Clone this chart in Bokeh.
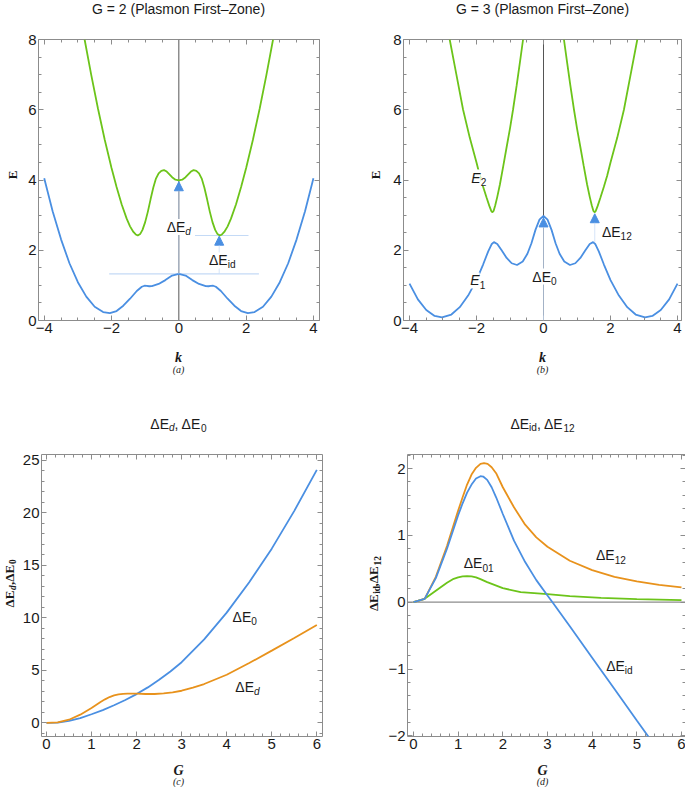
import math
from bokeh.plotting import figure
from bokeh.models import (Label, Arrow, NormalHead, Span, LinearAxis, Range1d,
                          FixedTicker, CustomJSTickFormatter)
from bokeh.layouts import column, row
from bokeh.embed import file_html
from bokeh.resources import INLINE

# ---------------- data ----------------
# (a) G = 2 : lower band E1 (blue) and upper band E2 (green)
ka_low = [-4.00, -3.75, -3.50, -3.25, -3.00, -2.75, -2.50, -2.25, -2.05, -1.85, -1.65,
          -1.45, -1.25, -1.10, -1.02, -0.95, -0.88, -0.80, -0.60, -0.40, -0.20, 0.00,
          0.20, 0.40, 0.60, 0.80, 0.88, 0.95, 1.02, 1.10, 1.25, 1.45, 1.65, 1.85, 2.05,
          2.25, 2.50, 2.75, 3.00, 3.25, 3.50, 3.75, 4.00]
Ea_low = [4.05, 3.11, 2.31, 1.63, 1.09, 0.68, 0.39, 0.24, 0.21, 0.27, 0.42,
          0.62, 0.84, 0.96, 0.99, 0.985, 0.975, 0.98, 1.04, 1.15, 1.28, 1.33,
          1.28, 1.15, 1.04, 0.98, 0.975, 0.985, 0.99, 0.96, 0.84, 0.62, 0.42, 0.27, 0.21,
          0.24, 0.39, 0.68, 1.09, 1.63, 2.31, 3.11, 4.05]
ka_up = [-2.80, -2.60, -2.40, -2.20, -2.00, -1.85, -1.70, -1.55, -1.45, -1.35, -1.28,
         -1.22, -1.15, -1.08, -1.00, -0.92, -0.84, -0.76, -0.68, -0.60, -0.52, -0.44,
         -0.36, -0.28, -0.20, -0.10, 0.00,
         0.10, 0.20, 0.28, 0.36, 0.44, 0.52, 0.60, 0.68, 0.76, 0.84, 0.92, 1.00,
         1.08, 1.15, 1.22, 1.28, 1.35, 1.45, 1.55, 1.70, 1.85, 2.00, 2.20, 2.40, 2.60, 2.80]
Ea_up = [8.00, 6.98, 6.02, 5.14, 4.34, 3.80, 3.31, 2.90, 2.68, 2.52, 2.45,
         2.42, 2.46, 2.58, 2.80, 3.10, 3.45, 3.78, 4.04, 4.19, 4.26, 4.28,
         4.24, 4.16, 4.08, 4.01, 3.99,
         4.01, 4.08, 4.16, 4.24, 4.28, 4.26, 4.19, 4.04, 3.78, 3.45, 3.10, 2.80,
         2.58, 2.46, 2.42, 2.45, 2.52, 2.68, 2.90, 3.31, 3.80, 4.34, 5.14, 6.02, 6.98, 8.00]
guide_a_E = [1.33, 2.42]
guide_a_k0 = [-2.07, 0.48]
guide_a_k1 = [2.38, 2.07]
arrow_a_k = [0.00, 1.20]
arrow_a_E0 = [1.33, 1.33]
arrow_a_E1 = [3.95, 2.40]

# (b) G = 3
kb_low = [-4.00, -3.75, -3.50, -3.25, -3.03, -2.75, -2.50, -2.25, -2.00, -1.80, -1.65,
          -1.55, -1.48, -1.38, -1.25, -1.10, -0.95, -0.79, -0.62, -0.48, -0.36, -0.24,
          -0.12, 0.00, 0.12, 0.24, 0.36, 0.48, 0.62, 0.79, 0.95, 1.10, 1.25, 1.38, 1.48,
          1.55, 1.65, 1.80, 2.00, 2.25, 2.50, 2.75, 3.03, 3.25, 3.50, 3.75, 4.00]
Eb_low = [1.05, 0.60, 0.30, 0.13, 0.09, 0.17, 0.38, 0.71, 1.15, 1.60, 1.97,
          2.17, 2.23, 2.18, 2.00, 1.78, 1.63, 1.58, 1.68, 1.90, 2.20, 2.58,
          2.87, 2.98, 2.87, 2.58, 2.20, 1.90, 1.68, 1.58, 1.63, 1.78, 2.00, 2.18, 2.23,
          2.17, 1.97, 1.60, 1.15, 0.71, 0.38, 0.17, 0.09, 0.13, 0.30, 0.60, 1.05]
kb_up_left = [-2.80, -2.60, -2.40, -2.20, -2.00, -1.90, -1.80, -1.70, -1.62, -1.56, -1.53,
              -1.49, -1.44, -1.38, -1.30, -1.20, -1.10, -1.00, -0.91, -0.80, -0.70, -0.61]
Eb_up_left = [8.00, 7.00, 6.00, 5.20, 4.50, 4.12, 3.80, 3.50, 3.27, 3.12, 3.08,
              3.12, 3.28, 3.52, 3.88, 4.40, 4.94, 5.47, 6.00, 6.70, 7.38, 8.00]
kb_up_right = [0.61, 0.70, 0.80, 0.91, 1.00, 1.10, 1.20, 1.30, 1.38, 1.44, 1.49,
               1.53, 1.56, 1.62, 1.70, 1.80, 1.90, 2.00, 2.20, 2.40, 2.60, 2.80]
Eb_up_right = [8.00, 7.38, 6.70, 6.00, 5.47, 4.94, 4.40, 3.88, 3.52, 3.28, 3.12,
               3.08, 3.12, 3.27, 3.50, 3.80, 4.12, 4.50, 5.20, 6.00, 7.00, 8.00]
arrow_b_k = [0.00, 1.53]
arrow_b_E0 = [0.00, 2.23]
arrow_b_E1 = [2.92, 3.04]

# (c) gaps versus G
Gc0 = [0.0, 0.25, 0.5, 0.75, 1.0, 1.25, 1.5, 1.75, 2.0, 2.25, 2.5, 2.75, 3.0,
       3.5, 4.0, 4.5, 5.0, 5.5, 6.0]
dE0 = [0.0, 0.03, 0.18, 0.45, 0.82, 1.22, 1.68, 2.18, 2.74, 3.38, 4.10, 4.90, 5.78,
       7.95, 10.5, 13.4, 16.6, 20.2, 24.1]
Gcd = [0.0, 0.25, 0.5, 0.75, 1.0, 1.1, 1.2, 1.3, 1.4, 1.5, 1.6, 1.7, 1.8, 1.9, 2.0,
       2.2, 2.4, 2.6, 2.8, 3.0, 3.25, 3.5, 4.0, 4.5, 5.0, 5.5, 6.0]
dEd = [0.0, 0.05, 0.30, 0.78, 1.42, 1.70, 1.98, 2.24, 2.46, 2.62, 2.72, 2.77, 2.79, 2.79, 2.78,
       2.75, 2.75, 2.80, 2.90, 3.06, 3.35, 3.70, 4.58, 5.70, 6.88, 8.08, 9.33]

# (d)
Gd12 = [0.0, 0.25, 0.5, 0.75, 1.0, 1.1, 1.2, 1.3, 1.4, 1.5, 1.58, 1.66, 1.75, 1.85, 2.0,
        2.25, 2.5, 2.75, 3.0, 3.5, 4.0, 4.5, 5.0, 5.5, 6.0]
dE12 = [0.0, 0.05, 0.38, 0.84, 1.37, 1.57, 1.76, 1.91, 2.01, 2.07, 2.08, 2.07, 2.02, 1.93, 1.72,
        1.42, 1.16, 0.97, 0.83, 0.62, 0.48, 0.38, 0.31, 0.26, 0.22]
Gdid = [0.0, 0.25, 0.5, 0.75, 1.0, 1.1, 1.2, 1.3, 1.4, 1.5, 1.56, 1.65, 1.75, 1.85, 2.0,
        2.25, 2.5, 2.75, 3.0, 3.1, 3.5, 4.0, 4.5, 5.0, 5.3]
dEid = [0.0, 0.05, 0.36, 0.80, 1.30, 1.48, 1.64, 1.76, 1.85, 1.885, 1.88, 1.83, 1.72, 1.57, 1.32,
        0.92, 0.60, 0.33, 0.10, 0.01, -0.36, -0.83, -1.30, -1.77, -2.05]
Gd01 = [0.0, 0.25, 0.5, 0.75, 0.9, 1.0, 1.1, 1.2, 1.3, 1.4, 1.5, 1.65, 2.0, 2.4, 3.0, 3.5,
        4.2, 5.0, 6.0]
dE01 = [0.0, 0.05, 0.17, 0.29, 0.35, 0.37, 0.385, 0.39, 0.385, 0.37, 0.345, 0.30, 0.21, 0.15,
        0.12, 0.09, 0.065, 0.045, 0.03]

# ---------------- styling ----------------
BLUE = "#4a8fe2"
GREEN = "#6cc41a"
ORANGE = "#e8921c"
LIGHT = "#c4daf6"
FRAME = "#8c8c8c"
TXT = "#1a1a1a"
SANS = "Liberation Sans"
SERIF = "Liberation Serif"
TICK_SIZE = "15px"

WID = {"Δ": 0.668, "E": 0.667, "d": 0.556, "i": 0.222, "0": 0.556, "1": 0.556,
       "2": 0.556, ",": 0.278, " ": 0.278}


def tw(s, size):
    return sum(WID.get(c, 0.556) for c in s) * size


def rich(p, x, y, parts, size=14, font=SANS, angle=0.0, bg=None):
    sub = size * 0.72
    widths = [tw(t, sub if s else size) for t, s, st in parts]
    off = -sum(widths) / 2
    for (t, s, st), w in zip(parts, widths):
        fs = sub if s else size
        dy = -size * 0.30 if s else 0.0
        if angle == 0:
            xo, yo = off, dy
        else:
            xo, yo = -dy, off
        p.add_layout(Label(x=x, y=y, text=t, x_offset=xo, y_offset=yo, angle=angle,
                           text_font=font, text_font_size=f"{fs:.1f}px",
                           text_font_style=st, text_color=TXT,
                           text_align="left", text_baseline="middle",
                           background_fill_color=bg))
        off += w


def plain(p, x, y, text, size=14, font=SANS, style="normal", angle=0.0):
    p.add_layout(Label(x=x, y=y, text=text, angle=angle,
                       text_font=font, text_font_size=f"{size}px", text_font_style=style,
                       text_color=TXT, text_align="center", text_baseline="middle"))


def strip(width, height):
    p = figure(width=width, height=height, x_range=Range1d(0, width),
               y_range=Range1d(0, height), output_backend="svg",
               toolbar_location=None, tools="", min_border=0,
               x_axis_location=None, y_axis_location=None)
    p.grid.visible = False
    p.outline_line_color = None
    p.background_fill_color = "white"
    p.border_fill_color = "white"
    return p


def make_fig(xr, yr, fw, fh, mbl, mbr, mbt, mbb, xt, xm, yt, ym, xo, yo):
    p = figure(frame_width=fw, frame_height=fh, x_range=Range1d(*xr), y_range=Range1d(*yr),
               output_backend="svg", toolbar_location=None, tools="",
               min_border_left=mbl, min_border_right=mbr,
               min_border_top=mbt, min_border_bottom=mbb)
    p.grid.visible = False
    p.outline_line_color = FRAME
    p.outline_line_width = 1
    p.background_fill_color = "white"
    p.border_fill_color = "white"
    bottom = p.below[0]
    left = p.left[0]
    top = LinearAxis(formatter=CustomJSTickFormatter(code="return ''"))
    right = LinearAxis(formatter=CustomJSTickFormatter(code="return ''"))
    p.add_layout(top, "above")
    p.add_layout(right, "right")
    for ax, t, m, o in ((bottom, xt, xm, xo), (left, yt, ym, yo),
                        (top, xt, xm, {}), (right, yt, ym, {})):
        ax.ticker = FixedTicker(ticks=t, minor_ticks=m)
        ax.axis_line_color = None
        ax.major_tick_line_color = FRAME
        ax.minor_tick_line_color = FRAME
        ax.major_tick_in = 5
        ax.major_tick_out = 0
        ax.minor_tick_in = 3
        ax.minor_tick_out = 0
        ax.major_label_text_font = SANS
        ax.major_label_text_color = TXT
        if o:
            ax.major_label_overrides = o
    bottom.major_label_text_font_size = TICK_SIZE
    left.major_label_text_font_size = TICK_SIZE
    bottom.major_label_standoff = 2
    left.major_label_standoff = 2
    for ax in (top, right):
        ax.major_label_text_font_size = "0px"
        ax.major_label_standoff = 0
    return p


k_ticks = [-4, -2, 0, 2, 4]
k_minor = [i * 0.5 for i in range(-9, 10)]
E_ticks = [0, 2, 4, 6, 8]
E_minor = [i * 0.5 for i in range(0, 17)]
k_over = {-4: "−4", -2: "−2"}
G_ticks = [0, 1, 2, 3, 4, 5, 6]
G_minor = [i * 0.2 for i in range(0, 31)]

# ---------------- panel (a) ----------------
pa = make_fig((-4.17, 4.18), (0, 8), 281, 281, 18, 21, 9, 21,
              k_ticks, k_minor, E_ticks, E_minor, k_over, {})
pa.add_layout(Span(location=0, dimension="height", line_color="#555555",
                   line_width=1, level="underlay"))
pa.segment(x0=guide_a_k0, y0=guide_a_E, x1=guide_a_k1, y1=guide_a_E,
           line_color=LIGHT, line_width=1.2)
pa.line(ka_low, Ea_low, line_color=BLUE, line_width=1.8)
pa.line(ka_up, Ea_up, line_color=GREEN, line_width=1.8)
for kk, e0, e1 in zip(arrow_a_k, arrow_a_E0, arrow_a_E1):
    pa.add_layout(Arrow(end=NormalHead(size=9, fill_color=BLUE, line_color=BLUE),
                        x_start=kk, y_start=e0, x_end=kk, y_end=e1,
                        line_color=LIGHT, line_width=1, line_alpha=0.7))
rich(pa, 0.0, 2.66, [("ΔE", False, "normal"), ("d", True, "italic")], bg="white")
rich(pa, 1.29, 1.71, [("ΔE", False, "normal"), ("id", True, "normal")], bg="white")

# ---------------- panel (b) ----------------
pb = make_fig((-4.179, 4.119), (0, 8), 278, 281, 21, 4, 9, 21,
              k_ticks, k_minor, E_ticks, E_minor, k_over, {})
pb.add_layout(Span(location=0, dimension="height", line_color="#555555",
                   line_width=1, level="underlay"))
pb.line(kb_low, Eb_low, line_color=BLUE, line_width=1.8)
pb.line(kb_up_left, Eb_up_left, line_color=GREEN, line_width=1.8)
pb.line(kb_up_right, Eb_up_right, line_color=GREEN, line_width=1.8)
for kk, e0, e1 in zip(arrow_b_k, arrow_b_E0, arrow_b_E1):
    pb.add_layout(Arrow(end=NormalHead(size=9, fill_color=BLUE, line_color=BLUE),
                        x_start=kk, y_start=e0, x_end=kk, y_end=e1,
                        line_color=LIGHT, line_width=1, line_alpha=0.7))
rich(pb, -1.93, 4.07, [("E", False, "italic"), ("2", True, "normal")], bg="white")
rich(pb, -1.96, 1.14, [("E", False, "italic"), ("1", True, "normal")], bg="white")
rich(pb, 0.03, 1.25, [("ΔE", False, "normal"), ("0", True, "normal")], bg="white")
rich(pb, 2.19, 2.53, [("ΔE", False, "normal"), ("12", True, "normal")], bg="white")

# ---------------- panel (c) ----------------
pc = make_fig((-0.11, 6.126), (-1.3, 25.57), 281, 282, 19, 21, 4, 21,
              G_ticks, G_minor, [0, 5, 10, 15, 20, 25], list(range(-1, 26)), {}, {})
pc.line(Gc0, dE0, line_color=BLUE, line_width=1.8)
pc.line(Gcd, dEd, line_color=ORANGE, line_width=1.8)
rich(pc, 4.40, 10.1, [("ΔE", False, "normal"), ("0", True, "normal")])
rich(pc, 4.46, 3.4, [("ΔE", False, "normal"), ("d", True, "italic")])

# ---------------- panel (d) ----------------
pd_ = make_fig((-0.134, 6.09), (-2.01, 2.21), 278, 282, 21, 4, 4, 21,
               G_ticks, G_minor, [-2, -1, 0, 1, 2], [i * 0.2 - 2 for i in range(0, 22)],
               {}, {-2: "−2", -1: "−1"})
pd_.add_layout(Span(location=0, dimension="width", line_color="#8c8c8c",
                    line_width=1.2, level="underlay"))
pd_.line(Gd01, dE01, line_color=GREEN, line_width=1.8)
pd_.line(Gd12, dE12, line_color=ORANGE, line_width=1.8)
pd_.line(Gdid, dEid, line_color=BLUE, line_width=1.8)
rich(pd_, 1.46, 0.58, [("ΔE", False, "normal"), ("01", True, "normal")])
rich(pd_, 4.42, 0.70, [("ΔE", False, "normal"), ("12", True, "normal")])
rich(pd_, 4.61, -0.96, [("ΔE", False, "normal"), ("id", True, "normal")])

# ---------------- text strips around the panels ----------------
top_strip = strip(685, 30)
plain(top_strip, 178, 22, "G = 2 (Plasmon First–Zone)")
plain(top_strip, 542, 22, "G = 3 (Plasmon First–Zone)")

ylab_a = strip(20, 311)
plain(ylab_a, 12, 161, "E", size=13, font=SERIF, style="bold", angle=math.pi / 2)
ylab_b = strip(42, 311)
plain(ylab_b, 35, 161, "E", size=13, font=SERIF, style="bold", angle=math.pi / 2)

mid_strip = strip(685, 109)
plain(mid_strip, 178, 93, "k", size=14, font=SERIF, style="bold italic")
plain(mid_strip, 178, 81, "(a)", size=10, font=SERIF, style="italic")
plain(mid_strip, 542, 93, "k", size=14, font=SERIF, style="bold italic")
plain(mid_strip, 542, 81, "(b)", size=10, font=SERIF, style="italic")
rich(mid_strip, 178, 27, [("ΔE", False, "normal"), ("d", True, "italic"),
                          (", ΔE", False, "normal"), ("0", True, "normal")])
rich(mid_strip, 542, 27, [("ΔE", False, "normal"), ("id", True, "normal"),
                          (", ΔE", False, "normal"), ("12", True, "normal")])

ylab_c = strip(19, 307)
rich(ylab_c, 8.5, 167, [("ΔE", False, "bold"), ("d", True, "bold italic"),
                        (",ΔE", False, "bold"), ("0", True, "bold")],
     size=13, font=SERIF, angle=math.pi / 2)
ylab_d = strip(42, 307)
rich(ylab_d, 30, 167, [("ΔE", False, "bold"), ("id", True, "bold"),
                       (",ΔE", False, "bold"), ("12", True, "bold")],
     size=13, font=SERIF, angle=math.pi / 2)

bot_strip = strip(685, 30)
plain(bot_strip, 178, 17, "G", size=14, font=SERIF, style="bold italic")
plain(bot_strip, 178, 6, "(c)", size=10, font=SERIF, style="italic")
plain(bot_strip, 542, 17, "G", size=14, font=SERIF, style="bold italic")
plain(bot_strip, 542, 6, "(d)", size=10, font=SERIF, style="italic")

layout = column(top_strip,
                row(ylab_a, pa, ylab_b, pb),
                mid_strip,
                row(ylab_c, pc, ylab_d, pd_),
                bot_strip)
open("out.html", "w").write(file_html(layout, INLINE))
